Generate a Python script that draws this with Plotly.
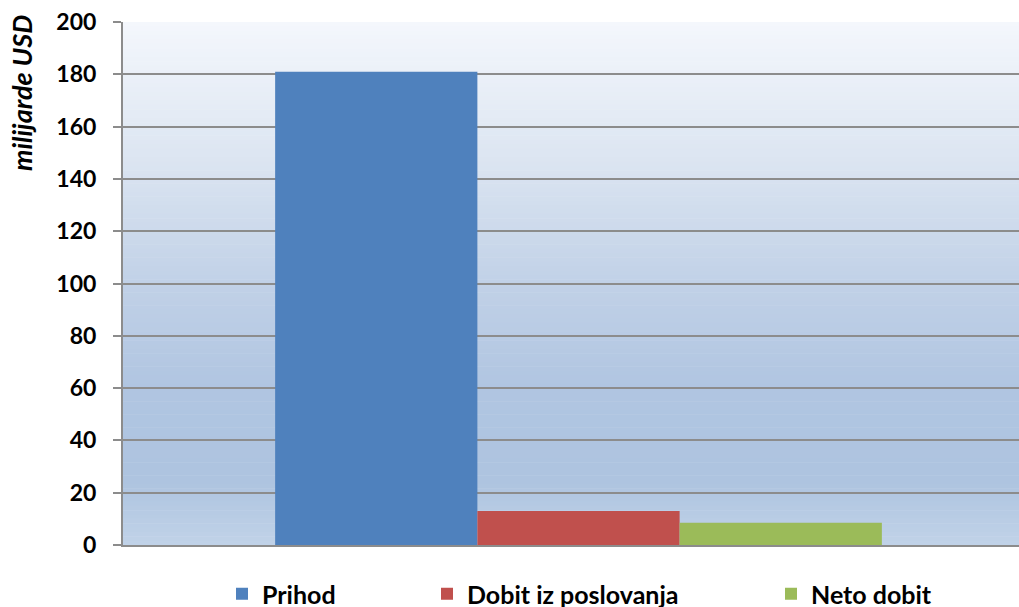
import plotly.graph_objects as go

# podaci
series_names = ["Prihod", "Dobit iz poslovanja", "Neto dobit"]
series_values = [181.0, 13.0, 8.5]
series_colors = ["#4f81bd", "#c0504d", "#9bbb59"]
y_ticks = [0, 20, 40, 60, 80, 100, 120, 140, 160, 180, 200]

W, H = 1019, 607
L, R, T, B = 123, 0, 22, H - 545
FONT = "Lato"


def gradient_shapes(stops, n=120):
    """Pozadina plot area kao niz tankih pravougaonika (gradijent)."""
    shapes = []
    for i in range(n):
        t = (i + 0.5) / n
        for (p0, c0), (p1, c1) in zip(stops[:-1], stops[1:]):
            if p0 <= t <= p1:
                f = (t - p0) / (p1 - p0)
                c = [round(a + (b - a) * f) for a, b in zip(c0, c1)]
                break
        shapes.append(dict(
            type="rect", xref="paper", yref="paper", layer="below",
            x0=0, x1=1, y0=1 - (i + 1) / n - 0.001, y1=1 - i / n,
            fillcolor=f"rgb({c[0]},{c[1]},{c[2]})", line=dict(width=0),
        ))
    return shapes


bg_stops = [
    (0.0, (244, 247, 252)),
    (0.25, (221, 230, 242)),
    (0.5, (193, 209, 231)),
    (0.7, (176, 197, 225)),
    (0.88, (174, 196, 224)),
    (1.0, (193, 210, 232)),
]

fig = go.Figure()
legend_x = [222, 427, 771]
for i, (name, val, col) in enumerate(zip(series_names, series_values, series_colors)):
    lg = "legend" if i == 0 else f"legend{i + 1}"
    fig.add_trace(go.Bar(
        x=[0], y=[val], name=name, marker=dict(color=col, line=dict(width=0)),
        legend=lg,
    ))

plot_w = W - L - R
plot_h = H - T - B
legend_cfg = {}
for i, px in enumerate(legend_x):
    key = "legend" if i == 0 else f"legend{i + 1}"
    legend_cfg[key] = dict(
        xref="container", yref="container",
        x=px / W, y=1 - 594 / H,
        xanchor="left", yanchor="middle", orientation="h",
        bgcolor="rgba(0,0,0,0)",
        font=dict(family=FONT, size=25, color="#000000", weight="bold"),
    )

fig.update_layout(
    width=W, height=H,
    margin=dict(l=L, r=R, t=T, b=B, autoexpand=False),
    barmode="group", bargap=0.334, bargroupgap=0,
    paper_bgcolor="white", plot_bgcolor="white",
    shapes=gradient_shapes(bg_stops),
    showlegend=True,
    **legend_cfg,
)

fig.update_xaxes(
    range=[-0.5, -0.5 + plot_w / 911], showticklabels=False, showgrid=False,
    zeroline=False, showline=True, linecolor="#8c8c8c", linewidth=2, ticks="",
    automargin=False,
)
fig.update_yaxes(
    range=[0, 200], tickvals=y_ticks, showgrid=True, gridcolor="#8c8c8c", gridwidth=2,
    zeroline=False, showline=True, linecolor="#8c8c8c", linewidth=2,
    ticks="outside", ticklen=8, tickwidth=2, tickcolor="#8c8c8c",
    ticklabelstandoff=12, automargin=False, ticklabeloverflow="allow",
    tickfont=dict(family=FONT, size=23, color="#000000", weight="bold"),
)

fig.add_annotation(
    text="<b><i>milijarde USD</i></b>", textangle=-90,
    xref="paper", yref="paper", x=-(L - 21) / plot_w, y=1 - (93 - T) / plot_h,
    xanchor="center", yanchor="middle", showarrow=False,
    font=dict(family=FONT, size=27, color="#000000"),
)

# bez body margine, da figura krene od (0, 0)
fig.write_html(
    "out.html",
    config={"displayModeBar": False},
    post_script="document.body.style.margin = '0';",
)
